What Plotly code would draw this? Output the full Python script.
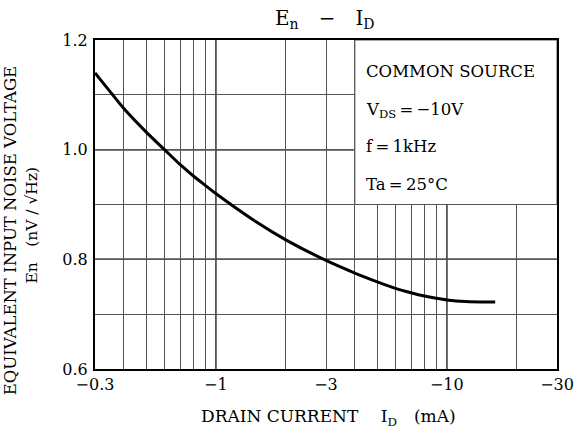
import plotly.graph_objects as go

# Data
drain_current = [0.3, 0.35, 0.4, 0.5, 0.6, 0.7, 0.8, 0.9, 1.0, 1.5, 2, 3, 4, 5, 6, 7, 8, 9, 10, 12, 16.2]
noise_voltage = [1.14, 1.105, 1.075, 1.032, 1.0, 0.973, 0.952, 0.935, 0.920, 0.868, 0.836, 0.798,
                 0.775, 0.759, 0.747, 0.739, 0.733, 0.729, 0.726, 0.723, 0.722]

x_tick_vals = [0.3, 1, 3, 10, 30]
x_tick_text = ["\u22120.3", "\u22121", "\u22123", "\u221210", "\u221230"]
y_tick_vals = [0.6, 0.8, 1.0, 1.2]
y_tick_text = ["0.6", "0.8", "1.0", "1.2"]

x_minor_grid = [0.4, 0.5, 0.6, 0.7, 0.8, 0.9, 2, 3, 4, 5, 6, 7, 8, 9, 20]
x_major_grid = [1, 10]
y_minor_grid = [0.7, 0.9, 1.1]
y_major_grid = [0.8, 1.0]

conditions = ["COMMON SOURCE", "V<sub>DS</sub>\u2009=\u2009\u221210V", "f\u2009=\u20091kHz", "Ta\u2009=\u200925\u00b0C"]
cond_y = [1.143, 1.071, 1.005, 0.937]
box_x = [4, 30]
box_y = [0.9, 1.2]

FONT = "DejaVu Serif"

fig = go.Figure()
fig.add_trace(go.Scatter(x=drain_current, y=noise_voltage, mode="lines",
                         line=dict(color="black", width=3, shape="spline", smoothing=0.8),
                         hoverinfo="skip", showlegend=False))

shapes = []
for xv in x_major_grid:
    shapes.append(dict(type="line", xref="x", yref="paper", x0=xv, x1=xv, y0=0, y1=1,
                       line=dict(color="black", width=1.5), layer="below"))
for yv in y_major_grid:
    shapes.append(dict(type="line", xref="paper", yref="y", x0=0, x1=1, y0=yv, y1=yv,
                       line=dict(color="black", width=1.5), layer="below"))
shapes.append(dict(type="rect", xref="x", yref="y", x0=box_x[0], x1=box_x[1], y0=box_y[0], y1=box_y[1],
                   fillcolor="white", line=dict(color="#555", width=1), layer="between"))

annotations = []
for txt, yv in zip(conditions, cond_y):
    annotations.append(dict(text=txt, xref="x", yref="y", x=0.64, y=yv, xanchor="left", yanchor="middle",
                            showarrow=False, font=dict(family=FONT, size=16.5, color="black")))
annotations.append(dict(text="DRAIN CURRENT\u2003 I<sub>D</sub>\u2003(mA)", xref="paper", yref="paper",
                        x=0.505, y=-0.148, xanchor="center", yanchor="middle", showarrow=False,
                        font=dict(family=FONT, size=17, color="black")))
annotations.append(dict(text="EQUIVALENT INPUT NOISE VOLTAGE", xref="paper", yref="paper",
                        x=-0.183, y=0.42, xanchor="center", yanchor="middle", textangle=-90,
                        showarrow=False, font=dict(family=FONT, size=16.5, color="black")))
annotations.append(dict(text="En\u2003(nV / \u221aHz)", xref="paper", yref="paper",
                        x=-0.137, y=0.438, xanchor="center", yanchor="middle", textangle=-90,
                        showarrow=False, font=dict(family=FONT, size=15.5, color="black")))
annotations.append(dict(text="E<sub>n</sub>\u2003\u2212\u2003I<sub>D</sub>", xref="paper", yref="paper",
                        x=0.497, y=1.065, xanchor="center", yanchor="middle", showarrow=False,
                        font=dict(family=FONT, size=20, color="black")))

fig.update_layout(
    width=577, height=440,
    margin=dict(l=95, r=20, t=40, b=71),
    paper_bgcolor="white", plot_bgcolor="white",
    font=dict(family=FONT, size=15, color="black"),
    showlegend=False,
    shapes=shapes,
    annotations=annotations,
    xaxis=dict(type="log", range=[-0.5229, 1.4771], tickvals=x_tick_vals, ticktext=x_tick_text,
               showgrid=True, gridcolor="#555", gridwidth=1, automargin=False,
               minor=dict(tickvals=x_minor_grid, showgrid=True, gridcolor="#555", gridwidth=1, ticks=""),
               showline=True, linecolor="black", linewidth=2, mirror=True, ticks="", zeroline=False,
               tickfont=dict(family=FONT, size=16)),
    yaxis=dict(range=[0.6, 1.2], tickvals=y_tick_vals, ticktext=y_tick_text,
               showgrid=True, gridcolor="#555", gridwidth=1, automargin=False,
               minor=dict(tickvals=y_minor_grid, showgrid=True, gridcolor="#555", gridwidth=1, ticks=""),
               showline=True, linecolor="black", linewidth=2, mirror=True, ticks="", zeroline=False,
               ticklabelstandoff=2, tickfont=dict(family=FONT, size=16)),
)

# Remove the default page margin so the 577x440 figure fills the window exactly
fig.write_html("out.html", config={"displayModeBar": False},
               post_script="document.body.style.margin='0';document.body.style.overflow='hidden';")
